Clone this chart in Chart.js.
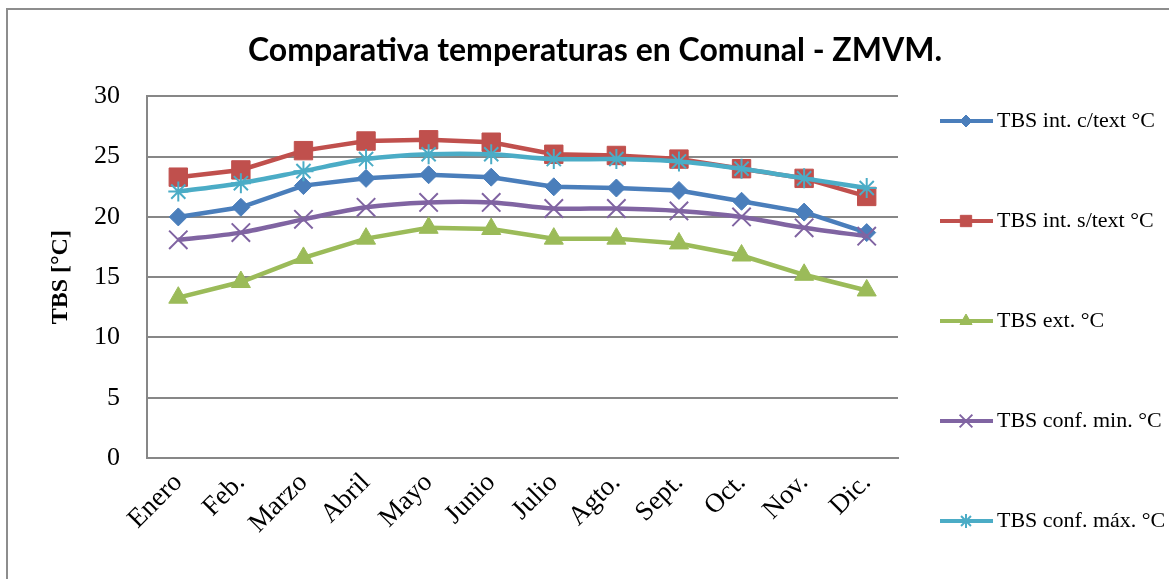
<!DOCTYPE html>
<html>
<head>
<meta charset="utf-8">
<script src="https://cdn.jsdelivr.net/npm/chart.js@4.4.1/dist/chart.umd.min.js"></script>
<style>
  html, body { margin: 0; padding: 0; background: #fff; }
  #wrap { position: relative; width: 1169px; height: 579px; overflow: hidden; }
  #wrap canvas { position: absolute; left: 0; top: 0; }
  #frame { position: absolute; left: 6px; top: 8px; width: 1200px; height: 620px;
           border: 2px solid #8d8d8d; box-sizing: border-box; pointer-events: none; }
</style>
</head>
<body>
<div id="wrap">
  <canvas id="tbsChart" width="1169" height="579"></canvas>
  <div id="frame"></div>
</div>
<script>
// Datos
const meses = ['Enero', 'Feb.', 'Marzo', 'Abril', 'Mayo', 'Junio', 'Julio', 'Agto.', 'Sept.', 'Oct.', 'Nov.', 'Dic.'];
const tbsIntCText  = [20.0, 20.8, 22.6, 23.2, 23.5, 23.3, 22.5, 22.4, 22.2, 21.3, 20.4, 18.7];
const tbsIntSText  = [23.3, 23.9, 25.5, 26.3, 26.4, 26.2, 25.2, 25.1, 24.8, 24.0, 23.2, 21.7];
const tbsExt       = [13.3, 14.6, 16.6, 18.2, 19.1, 19.0, 18.2, 18.2, 17.8, 16.8, 15.2, 13.9];
const tbsConfMin   = [18.1, 18.7, 19.8, 20.8, 21.2, 21.2, 20.7, 20.7, 20.5, 20.0, 19.1, 18.4];
const tbsConfMax   = [22.1, 22.8, 23.8, 24.8, 25.2, 25.2, 24.8, 24.8, 24.6, 24.0, 23.2, 22.4];
const yTicks = [0, 5, 10, 15, 20, 25, 30];

const serif = "'Liberation Serif', 'DejaVu Serif', serif";

function serie(label, data, color, style, radius, legendRadius, tension, order, bw) {
    return {
        label: label,
        data: data,
        borderColor: color,
        backgroundColor: color,
        pointBackgroundColor: color,
        pointBorderColor: color,
        pointStyle: style,
        pointRadius: radius,
        pointBorderWidth: bw,
        legendRadius: legendRadius,
        borderWidth: 4.5,
        tension: tension,
        order: order,
        fill: false
    };
}

const datasets = [
    serie('TBS int. c/text °C', tbsIntCText, '#4a7ebb', 'rectRot', 9, 6, 0, 5, 1),
    serie('TBS int. s/text °C', tbsIntSText, '#c0504d', 'rect', 13, 8, 0, 4, 1),
    serie('TBS ext. °C', tbsExt, '#9bbb59', 'triangle', 11, 7, 0, 3, 1),
    serie('TBS conf. min. °C', tbsConfMin, '#8064a2', 'crossRot', 13, 9, 0.3, 2, 2),
    serie('TBS conf. máx. °C', tbsConfMax, '#4bacc6', 'star', 10, 7, 0.3, 1, 2)
];

// Leyenda a la derecha: línea con marcador y texto, espaciado amplio
const leyendaDerecha = {
    id: 'leyendaDerecha',
    afterDraw(chart) {
        const ctx = chart.ctx;
        chart.data.datasets.forEach((ds, i) => {
            const y = 121 + i * 100;
            ctx.save();
            ctx.strokeStyle = ds.borderColor;
            ctx.lineWidth = 4;
            ctx.beginPath();
            ctx.moveTo(940, y);
            ctx.lineTo(993, y);
            ctx.stroke();
            ctx.fillStyle = ds.borderColor;
            ctx.lineWidth = ds.pointBorderWidth;
            Chart.helpers.drawPoint(ctx, {
                pointStyle: ds.pointStyle,
                rotation: 0,
                radius: ds.legendRadius,
                borderWidth: ds.pointBorderWidth
            }, 966, y);
            ctx.fillStyle = '#000';
            ctx.font = '22px ' + serif;
            ctx.textBaseline = 'middle';
            ctx.textAlign = 'left';
            ctx.fillText(ds.label, 997, y);
            ctx.restore();
        });
    }
};

const config = {
    type: 'line',
    data: { labels: meses, datasets: datasets },
    options: {
        responsive: false,
        animation: false,
        layout: { padding: { left: 21, right: 0, top: 8, bottom: 21 } },
        plugins: {
            legend: { display: false },
            tooltip: { enabled: false },
            title: {
                display: true,
                text: 'Comparativa temperaturas en Comunal - ZMVM.',
                color: '#000',
                font: { family: "Lato, 'Open Sans', sans-serif", size: 32, weight: 'bold' },
                padding: { top: 23, bottom: 27 }
            }
        },
        scales: {
            x: {
                offset: true,
                grid: { display: false, drawTicks: false },
                border: { display: true, color: '#878787', width: 2 },
                ticks: {
                    color: '#000',
                    font: { family: serif, size: 27 },
                    minRotation: 45,
                    maxRotation: 45,
                    padding: 9,
                    autoSkip: false
                },
                afterFit(scale) { scale.height = 100; }
            },
            y: {
                min: 0,
                max: 30,
                afterBuildTicks(scale) { scale.ticks = yTicks.map(v => ({ value: v })); },
                grid: { color: '#878787', lineWidth: 2, drawTicks: false },
                border: { display: true, color: '#878787', width: 2 },
                ticks: {
                    color: '#000',
                    font: { family: serif, size: 26 },
                    padding: 27
                },
                title: {
                    display: true,
                    text: 'TBS [°C]',
                    color: '#000',
                    font: { family: serif, size: 24, weight: 'bold' },
                    padding: { top: 25, bottom: 0 }
                },
                afterFit(scale) { scale.width = 126; }
            },
            yLeyenda: {
                position: 'right',
                display: true,
                grid: { display: false, drawTicks: false },
                border: { display: false },
                ticks: { display: false },
                afterFit(scale) { scale.width = 271; }
            }
        }
    },
    plugins: [leyendaDerecha]
};

const ctx = document.getElementById('tbsChart').getContext('2d');
new Chart(ctx, config);
</script>
</body>
</html>
